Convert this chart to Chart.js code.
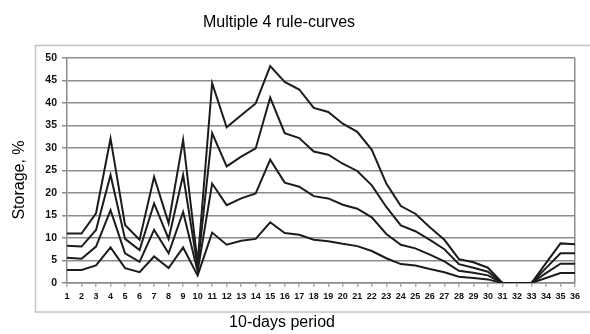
<!DOCTYPE html>
<html>
<head>
<meta charset="utf-8">
<script src="https://cdn.jsdelivr.net/npm/chart.js@4"></script>
<style>
  html, body { margin: 0; padding: 0; background: #fff; }
  canvas { display: block; }
</style>
</head>
<body>
<canvas id="ruleChart" width="590" height="334"></canvas>
<script>
const periods = ['1','2','3','4','5','6','7','8','9','10','11','12','13','14','15','16','17','18',
  '19','20','21','22','23','24','25','26','27','28','29','30','31','32','33','34','35','36'];

const curve1 = [2.9, 2.9, 3.9, 7.9, 3.3, 2.4, 5.9, 3.3, 7.9, 1.7, 11.2, 8.5, 9.4, 9.8, 13.5, 11.1, 10.7, 9.6,
  9.3, 8.7, 8.2, 7.1, 5.5, 4.2, 3.9, 3.1, 2.4, 1.4, 1.1, 0.8, 0, 0, 0, 1.1, 2.2, 2.2];
const curve2 = [5.6, 5.4, 8.1, 16.2, 6.6, 4.7, 11.8, 6.6, 15.8, 2.6, 22.1, 17.3, 18.8, 19.9, 27.4, 22.3, 21.4, 19.3,
  18.8, 17.4, 16.5, 14.6, 10.9, 8.5, 7.7, 6.3, 4.8, 2.7, 2.3, 1.7, 0, 0, 0, 2.2, 4.3, 4.3];
const curve3 = [8.3, 8.1, 11.8, 24, 9.8, 7.3, 17.7, 9.8, 24, 3.5, 33.3, 25.9, 28.1, 29.9, 41.2, 33.3, 32.2, 29.2,
  28.5, 26.5, 24.9, 21.7, 16.9, 12.8, 11.5, 9.6, 7.5, 4.2, 3.4, 2.5, 0, 0, 0, 3.3, 6.6, 6.6];
const curve4 = [11, 11, 15.5, 32.1, 12.9, 9.6, 23.6, 13.3, 31.8, 4.5, 44.4, 34.6, 37.3, 39.9, 48.2, 44.7, 43, 38.9,
  38, 35.4, 33.6, 29.6, 22.1, 17.1, 15.4, 12.4, 9.6, 5.3, 4.6, 3.4, 0, 0, 0, 4.4, 8.8, 8.6];

const yTicks = [0, 5, 10, 15, 20, 25, 30, 35, 40, 45, 50];

const gridGrey = '#8c8c8c';
const fontFamily = '"Liberation Sans", Arial, sans-serif';

// outer frame + titles, placed where the original picture has them
const framePlugin = {
  id: 'frame',
  beforeDraw(chart) {
    const c = chart.ctx;
    c.save();
    c.fillStyle = '#fff';
    c.fillRect(0, 0, chart.width, chart.height);
    c.strokeStyle = '#c4c4c4';
    c.lineWidth = 1.5;
    c.strokeRect(35.5, 45.5, 600, 266.5);
    c.restore();
  },
  afterDraw(chart) {
    const c = chart.ctx;
    c.save();
    c.fillStyle = '#000';
    c.textAlign = 'center';
    c.textBaseline = 'middle';
    c.font = '16px ' + fontFamily;
    c.fillText('Multiple 4 rule-curves', 279, 23);
    c.fillText('10-days period', 282, 323);
    c.translate(20, 180);
    c.rotate(-Math.PI / 2);
    c.fillText('Storage, %', 0, 0);
    c.restore();
  }
};

function makeSet(label, values) {
  return {
    label: label,
    data: values,
    borderColor: '#1c1c1c',
    borderWidth: 2,
    pointRadius: 0,
    tension: 0,
    fill: false
  };
}

new Chart(document.getElementById('ruleChart'), {
  type: 'line',
  data: {
    labels: periods,
    datasets: [
      makeSet('Curve 4', curve4),
      makeSet('Curve 3', curve3),
      makeSet('Curve 2', curve2),
      makeSet('Curve 1', curve1)
    ]
  },
  options: {
    responsive: false,
    animation: false,
    layout: { padding: { left: 0, top: 58, right: 15, bottom: 0 } },
    plugins: {
      legend: { display: false },
      title: { display: false },
      tooltip: { enabled: false }
    },
    scales: {
      x: {
        offset: false,
        afterFit(scale) { scale.height = 51; },
        border: { color: gridGrey, width: 1.5 },
        grid: {
          drawOnChartArea: true,
          color: ctx => (ctx.index === periods.length - 1 ? gridGrey : 'rgba(0,0,0,0)'),
          lineWidth: 1.5,
          tickColor: '#b0b0b0',
          tickLength: 4
        },
        ticks: {
          autoSkip: false,
          maxRotation: 0,
          padding: 4,
          color: '#111',
          font: { family: fontFamily, size: 9, weight: 'bold' }
        }
      },
      y: {
        min: 0,
        max: 50,
        afterFit(scale) { scale.width = 67; },
        afterBuildTicks(scale) { scale.ticks = yTicks.map(v => ({ value: v })); },
        border: { color: gridGrey, width: 1.5 },
        grid: {
          color: gridGrey,
          lineWidth: 1.5,
          tickColor: gridGrey,
          tickLength: 5
        },
        ticks: {
          padding: 5,
          color: '#111',
          font: { family: fontFamily, size: 10.5, weight: 'bold' }
        }
      }
    }
  },
  plugins: [framePlugin]
});
</script>
</body>
</html>
